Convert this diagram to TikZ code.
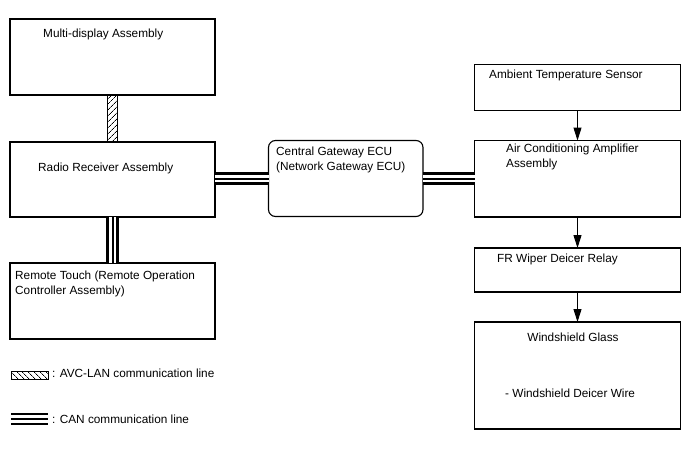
\documentclass[tikz,border=0pt]{standalone}
\usepackage{fontspec}
\setmainfont{Liberation Sans}
\usetikzlibrary{arrows.meta,patterns.meta}
\tikzset{
  blk/.style={draw,line width=1.1pt,anchor=north west,inner sep=0pt,outer sep=0pt},
  txt/.style={inner sep=0pt,font=\fontsize{11.8}{15}\selectfont},
  avc/.style={draw,line width=0.9pt,pattern={Lines[angle=45,distance=4pt,line width=0.7pt]}},
  can/.style={line width=12.2pt,postaction={draw=white,line width=7.8pt},postaction={draw=black,line width=2pt}},
  fl/.style={line width=1pt,-{Triangle[length=13pt,width=8pt]}}
}

\begin{document}
\begin{tikzpicture}[x=1pt,y=-1pt]
\useasboundingbox (0,0) rectangle (688,463);
% left column
\node[blk,minimum width=205pt,minimum height=76pt] (multi) at (10,19) {};
\node[txt,anchor=base west] (multiT) at (43,37) {Multi-display Assembly};
\node[blk,minimum width=205pt,minimum height=75pt] (radio) at (10,142) {};
\node[txt,anchor=base west] (radioT) at (38,171) {Radio Receiver Assembly};
\node[blk,minimum width=205pt,minimum height=76pt] (remote) at (10,263) {};
\node[txt,anchor=north west,align=left] (remoteT) at (15,270.4) {Remote Touch (Remote Operation\\Controller Assembly)};
% gateway
\node[blk,rounded corners=7pt,minimum width=154.5pt,minimum height=76pt] (gw) at (268.5,140.5) {};
\node[txt,anchor=north west,align=left] (gwT) at (276,146.4) {Central Gateway ECU\\(Network Gateway ECU)};
% right column
\node[blk,minimum width=206pt,minimum height=46pt] (amb) at (474.5,64.5) {};
\node[txt,anchor=base west] (ambT) at (489,78) {Ambient Temperature Sensor};
\node[blk,minimum width=206pt,minimum height=76.5pt] (ac) at (474.5,140.5) {};
\node[txt,anchor=north west,align=left] (acT) at (506,143.4) {Air Conditioning Amplifier\\Assembly};
\node[blk,minimum width=206pt,minimum height=44pt] (relay) at (474.5,248) {};
\node[txt,anchor=base west] (relayT) at (497,262) {FR Wiper Deicer Relay};
\node[blk,minimum width=206pt,minimum height=107pt] (ws) at (474.5,322) {};
\node[txt,anchor=base] (wsT) at (573,341.5) {Windshield Glass};
\node[txt,anchor=base west] (wireT) at (505,397) {- Windshield Deicer Wire};
% buses
\draw[avc] ([xshift=-5pt]multi.south) rectangle ([xshift=5pt]radio.north);
\draw[can] (radio.south) -- (remote.north);
\draw[can] (gw.west -| radio.east) -- (gw.west);
\draw[can] (gw.east) -- (gw.east -| ac.west);
\draw[fl] (amb.south) -- (ac.north);
\draw[fl] (ac.south) -- (relay.north);
\draw[fl] (relay.south) -- (ws.north);
% legend
\draw[avc,pattern={Lines[angle=-45,distance=4pt,line width=0.7pt]}] (11,371) rectangle (48,379);
\node[txt,anchor=base west] (avcT) at (52,377) {: AVC-LAN communication line};
\coordinate (canA) at (11,419);
\coordinate (canB) at (48,419);
\draw[can] (canA) -- (canB);
\node[txt,anchor=base west] (canT) at (52,423) {: CAN communication line};
\end{tikzpicture}
\end{document}
